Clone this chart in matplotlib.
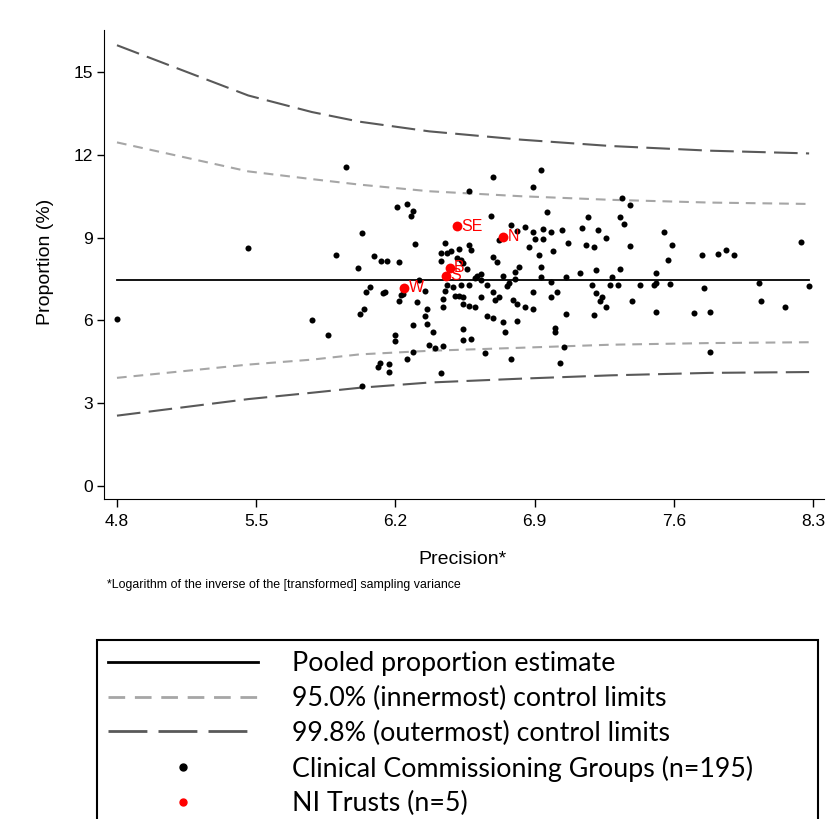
import matplotlib
matplotlib.use("Agg")
import matplotlib.pyplot as plt
from matplotlib.lines import Line2D

plt.rcParams["font.family"] = ["Liberation Sans", "DejaVu Sans"]
plt.rcParams["lines.scale_dashes"] = False

# Clinical Commissioning Groups: precision (x) and proportion % (y)
ccg_x = [4.80, 5.46, 5.78, 5.86, 5.90, 5.95, 6.01, 6.02, 6.03, 6.03, 6.04, 6.05,
         6.07, 6.09, 6.11, 6.12, 6.13, 6.14, 6.15, 6.16, 6.17, 6.17, 6.20, 6.20,
         6.21, 6.22, 6.22, 6.23, 6.24, 6.26, 6.26, 6.28, 6.29, 6.29, 6.29, 6.30,
         6.31, 6.32, 6.35, 6.35, 6.36, 6.36, 6.37, 6.39, 6.40, 6.43, 6.43, 6.43,
         6.44, 6.44, 6.44, 6.45, 6.45, 6.46, 6.46, 6.48, 6.49, 6.50, 6.51, 6.52,
         6.52, 6.53, 6.53, 6.54, 6.54, 6.54, 6.54, 6.54, 6.56, 6.57, 6.57, 6.57,
         6.57, 6.58, 6.58, 6.60, 6.60, 6.61, 6.63, 6.63, 6.63, 6.65, 6.66, 6.68,
         6.69, 6.69, 6.69, 6.69, 6.70, 6.71, 6.72, 6.72, 6.74, 6.74, 6.75, 6.76,
         6.77, 6.78, 6.78, 6.80, 6.80, 6.81, 6.81, 6.81, 6.82, 6.85, 6.85, 6.87,
         6.89, 6.89, 6.89, 6.89, 6.90, 6.92, 6.93, 6.93, 6.93, 6.94, 6.94, 6.96,
         6.98, 6.98, 6.98, 6.99, 7.00, 7.00, 7.01, 7.03, 7.04, 7.05, 7.06, 7.06,
         7.07, 7.13, 7.14, 7.16, 7.17, 7.19, 7.20, 7.20, 7.21, 7.21, 7.22, 7.23,
         7.24, 7.26, 7.26, 7.28, 7.29, 7.32, 7.33, 7.33, 7.34, 7.35, 7.38, 7.38,
         7.39, 7.43, 7.50, 7.51, 7.51, 7.51, 7.55, 7.57, 7.58, 7.59, 7.70, 7.74,
         7.75, 7.78, 7.78, 7.82, 7.86, 7.90, 8.03, 8.04, 8.16, 8.24, 8.28, 6.66,
         6.79]
ccg_y = [6.06, 8.61, 6.03, 5.48, 8.38, 11.55, 7.91, 6.23, 9.18, 3.61, 6.42, 7.04,
         7.22, 8.33, 4.32, 4.45, 8.16, 6.98, 7.02, 8.14, 4.42, 4.12, 5.48, 5.25,
         10.11, 8.10, 6.70, 6.92, 6.95, 4.61, 10.23, 9.79, 9.96, 5.83, 4.87, 8.76,
         6.67, 7.45, 6.16, 7.08, 6.42, 5.87, 5.12, 5.59, 5.01, 8.43, 8.14, 4.08,
         6.76, 5.07, 6.47, 8.81, 7.05, 8.45, 7.29, 8.53, 7.21, 6.89, 8.26, 8.60,
         6.88, 8.19, 7.27, 5.28, 6.84, 6.58, 5.68, 8.07, 7.85, 10.69, 8.72, 7.27,
         6.52, 8.55, 5.31, 6.49, 7.52, 7.62, 7.68, 7.46, 6.85, 4.81, 6.15, 9.78,
         8.29, 6.09, 7.03, 11.21, 6.74, 8.12, 6.85, 8.91, 7.61, 5.94, 5.58, 7.25,
         7.37, 9.45, 4.60, 7.75, 7.51, 9.25, 6.59, 5.97, 7.92, 6.47, 9.38, 8.66,
         9.19, 6.42, 10.84, 7.02, 8.96, 8.38, 7.93, 11.45, 7.58, 8.96, 9.32, 9.94,
         9.21, 7.39, 6.85, 8.50, 5.72, 5.58, 7.03, 4.47, 9.27, 5.03, 7.58, 6.24,
         8.81, 7.73, 9.34, 8.73, 9.74, 7.29, 6.18, 8.65, 7.83, 7.00, 9.29, 6.70,
         6.85, 6.47, 9.00, 7.29, 7.58, 7.29, 9.76, 7.87, 10.43, 9.50, 10.17, 8.70,
         6.71, 7.29, 7.29, 7.34, 6.31, 7.72, 9.21, 8.20, 7.31, 8.72, 6.27, 8.37,
         7.19, 6.29, 4.85, 8.41, 8.56, 8.37, 7.34, 6.71, 6.49, 8.84, 7.25, 7.29,
         6.75]

# NI Trusts
trust_names = ["W", "S", "B", "SE", "N"]
trust_x = [6.245, 6.454, 6.474, 6.511, 6.742]
trust_y = [7.18, 7.61, 7.90, 9.42, 9.03]

# pooled estimate and control limits
pooled = 7.45
limit_x = [4.80, 5.46, 5.78, 6.02, 6.37, 6.83, 7.28, 7.78, 8.28]
outer_upper = [15.97, 14.15, 13.55, 13.20, 12.85, 12.55, 12.32, 12.15, 12.05]
inner_upper = [12.45, 11.40, 11.12, 10.92, 10.68, 10.50, 10.37, 10.27, 10.22]
inner_lower = [3.92, 4.40, 4.58, 4.77, 4.90, 5.01, 5.12, 5.18, 5.21]
outer_lower = [2.55, 3.15, 3.38, 3.56, 3.75, 3.89, 4.01, 4.10, 4.13]

x_ticks = [4.8, 5.5, 6.2, 6.9, 7.6, 8.3]
y_ticks = [0, 3, 6, 9, 12, 15]

inner_col = "#a6a6a6"
outer_col = "#595959"

fig = plt.figure(figsize=(8.31, 8.19), dpi=100)
ax = fig.add_axes([0.1252, 0.3907, 0.8664, 0.5726])

ax.plot([limit_x[0], limit_x[-1]], [pooled, pooled], color="black", lw=1.3, zorder=2)
ax.plot(limit_x, inner_upper, color=inner_col, lw=1.5, dashes=(7, 5))
ax.plot(limit_x, inner_lower, color=inner_col, lw=1.5, dashes=(7, 5))
ax.plot(limit_x, outer_upper, color=outer_col, lw=1.5, dashes=(17, 6))
ax.plot(limit_x, outer_lower, color=outer_col, lw=1.5, dashes=(17, 6))

ax.scatter(ccg_x, ccg_y, s=19, color="black", lw=0, zorder=3)
ax.scatter(trust_x, trust_y, s=50, color="#ff0000", lw=0, zorder=4)
for name, x, y in zip(trust_names, trust_x, trust_y):
    ax.annotate(name, (x, y), xytext=(3, 0), textcoords="offset points",
                ha="left", va="center", color="#ff0000", fontsize=11.5, zorder=5)

ax.set_xlim(4.735, 8.355)
ax.set_ylim(-0.47, 16.52)
ax.set_xticks(x_ticks)
ax.set_xticklabels([f"{t:.1f}" for t in x_ticks])
ax.set_yticks(y_ticks)
ax.set_yticklabels([str(t) for t in y_ticks])
ax.spines["top"].set_visible(False)
ax.spines["right"].set_visible(False)
ax.tick_params(axis="x", length=5.5, width=1, labelsize=12.5, pad=5)
ax.tick_params(axis="y", length=5, width=1, labelsize=12.5, pad=3)

fig.text(463 / 831, 1 - 560 / 819, "Precision*", ha="center", va="center", fontsize=14)
fig.text(45 / 831, 1 - 262 / 819, "Proportion (%)", ha="center", va="center",
         rotation=90, fontsize=14)
fig.text(107 / 831, 1 - 585 / 819,
         "*Logarithm of the inverse of the [transformed] sampling variance",
         ha="left", va="center", fontsize=8.9)

handles = [
    Line2D([], [], color="black", lw=2),
    Line2D([], [], color=inner_col, lw=2, dashes=(12, 7)),
    Line2D([], [], color=outer_col, lw=2, dashes=(28, 8)),
    Line2D([], [], color="black", lw=0, marker="o", markersize=5),
    Line2D([], [], color="#ff0000", lw=0, marker="o", markersize=5),
]
labels = [
    "Pooled proportion estimate",
    "95.0% (innermost) control limits",
    "99.8% (outermost) control limits",
    "Clinical Commissioning Groups (n=195)",
    "NI Trusts (n=5)",
]
leg = fig.legend(handles, labels, loc="upper left",
                 bbox_to_anchor=(97 / 831, 0, 721 / 831, 1 - 640 / 819),
                 mode="expand", borderaxespad=0, frameon=True, fancybox=False,
                 edgecolor="black", framealpha=1, handlelength=5.6,
                 handletextpad=1.25, labelspacing=0.36, borderpad=0.42,
                 numpoints=1, prop={"family": "Lato", "size": 19.3})
leg.get_frame().set_linewidth(1.5)

fig.savefig("out.png", dpi=100)
